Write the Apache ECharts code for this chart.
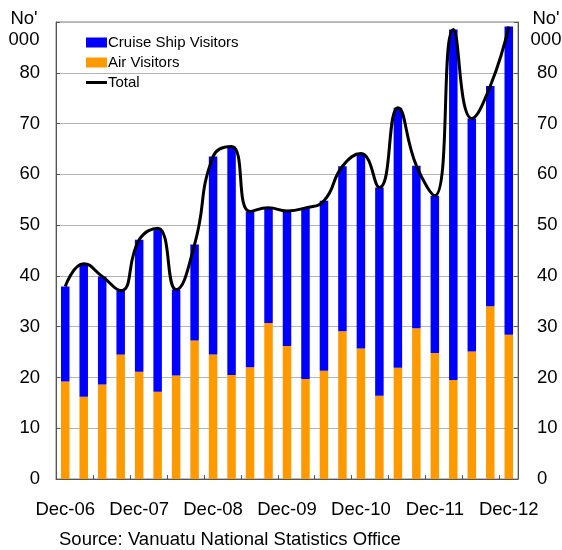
<!DOCTYPE html>
<html>
<head>
<meta charset="utf-8">
<script src="https://cdn.jsdelivr.net/npm/echarts@6/dist/echarts.min.js"></script>
<style>
  html, body { margin: 0; padding: 0; background: #fff; }
  #chart { width: 562px; height: 550px; }
</style>
</head>
<body>
<div id="chart"></div>
<script>
// Vanuatu visitor arrivals, thousands, quarterly Dec-06 .. Dec-12
const quarters = [
  'Dec-06', 'Mar-07', 'Jun-07', 'Sep-07', 'Dec-07', 'Mar-08', 'Jun-08', 'Sep-08',
  'Dec-08', 'Mar-09', 'Jun-09', 'Sep-09', 'Dec-09', 'Mar-10', 'Jun-10', 'Sep-10',
  'Dec-10', 'Mar-11', 'Jun-11', 'Sep-11', 'Dec-11', 'Mar-12', 'Jun-12', 'Sep-12',
  'Dec-12'
];
const airVisitors = [
  19.2, 16.2, 18.6, 24.5, 21.1, 17.2, 20.4, 27.3, 24.5, 20.5, 22.0, 30.7, 26.2,
  19.7, 21.3, 29.1, 25.7, 16.4, 21.9, 29.7, 24.8, 19.5, 25.1, 34.0, 28.4
];
const cruiseVisitors = [
  18.7, 26.2, 21.3, 12.6, 26.0, 32.2, 16.9, 18.9, 39.0, 45.0, 30.7, 22.7, 26.6,
  33.7, 33.5, 32.5, 38.4, 41.0, 51.2, 32.0, 31.0, 69.0, 45.9, 43.4, 60.7
];
const totalVisitors = airVisitors.map((v, i) => +(v + cruiseVisitors[i]).toFixed(1));

const FONT = "'Liberation Sans', Arial, sans-serif";

// thin bar inside a 21x10 box, for the line's legend entry
const LINE_ICON = 'path://M0,0 L0,0 Z M0,3.5 L21,3.5 L21,6.5 L0,6.5 Z M21,10 L21,10 Z';

const chart = echarts.init(document.getElementById('chart'), null, { renderer: 'canvas' });

const yAxisBase = {
  type: 'value',
  min: 0,
  max: 90,
  interval: 10,
  axisLine: { show: true, lineStyle: { color: '#555', width: 1 } },
  axisTick: { show: true, inside: true, length: 4, lineStyle: { color: '#555' } },
  splitLine: { show: true, lineStyle: { color: '#b4b4b4', width: 1 } },
  axisLabel: {
    color: '#000',
    fontFamily: FONT,
    fontSize: 18.5,
    formatter: v => (v === 90 ? '' : String(v))
  }
};

chart.setOption({
  animation: false,
  backgroundColor: '#fff',
  grid: {
    left: 56, right: 44, top: 22, bottom: 71,
    show: true, borderColor: '#808080', borderWidth: 1
  },
  legend: {
    orient: 'vertical',
    left: 81,
    top: 30,
    itemWidth: 21,
    itemHeight: 10,
    itemGap: 5,
    data: [
      { name: 'Cruise Ship Visitors', icon: 'rect' },
      { name: 'Air Visitors', icon: 'rect' },
      { name: 'Total', icon: LINE_ICON }
    ],
    textStyle: { color: '#000', fontFamily: FONT, fontSize: 15, padding: [0, 0, 0, -4] }
  },
  xAxis: {
    type: 'category',
    data: quarters,
    boundaryGap: true,
    axisLine: { lineStyle: { color: '#555', width: 1 } },
    axisTick: { show: true, inside: true, length: 4, interval: 1, lineStyle: { color: '#555' } },
    axisLabel: {
      interval: 3,
      color: '#000',
      fontFamily: FONT,
      fontSize: 18.5,
      margin: 21
    }
  },
  yAxis: [
    Object.assign({}, yAxisBase, { position: 'left', axisLabel: Object.assign({}, yAxisBase.axisLabel, { margin: 16 }) }),
    Object.assign({}, yAxisBase, {
      position: 'right',
      splitLine: { show: false },
      axisLabel: Object.assign({}, yAxisBase.axisLabel, { margin: 19 })
    })
  ],
  series: [
    {
      name: 'Air Visitors',
      type: 'bar',
      stack: 'visitors',
      barWidth: 8.5,
      itemStyle: { color: '#ff9900' },
      data: airVisitors
    },
    {
      name: 'Cruise Ship Visitors',
      type: 'bar',
      stack: 'visitors',
      barWidth: 8.5,
      itemStyle: { color: '#0000ff' },
      data: cruiseVisitors
    },
    {
      name: 'Total',
      type: 'line',
      smooth: 0.5,
      symbol: 'none',
      lineStyle: { color: '#000', width: 3 },
      itemStyle: { color: '#000' },
      data: totalVisitors
    }
  ],
  graphic: [
    {
      type: 'text', x: 24, y: 8,
      style: { text: "No'\n000", textAlign: 'center', fill: '#000', font: '18.5px ' + FONT, lineHeight: 21 }
    },
    {
      type: 'text', x: 546, y: 8,
      style: { text: "No'\n000", textAlign: 'center', fill: '#000', font: '18.5px ' + FONT, lineHeight: 21 }
    },
    {
      type: 'text', x: 59, y: 549,
      style: { text: 'Source: Vanuatu National Statistics Office', textVerticalAlign: 'bottom', fill: '#000', font: '18.5px ' + FONT }
    }
  ]
});
</script>
</body>
</html>
